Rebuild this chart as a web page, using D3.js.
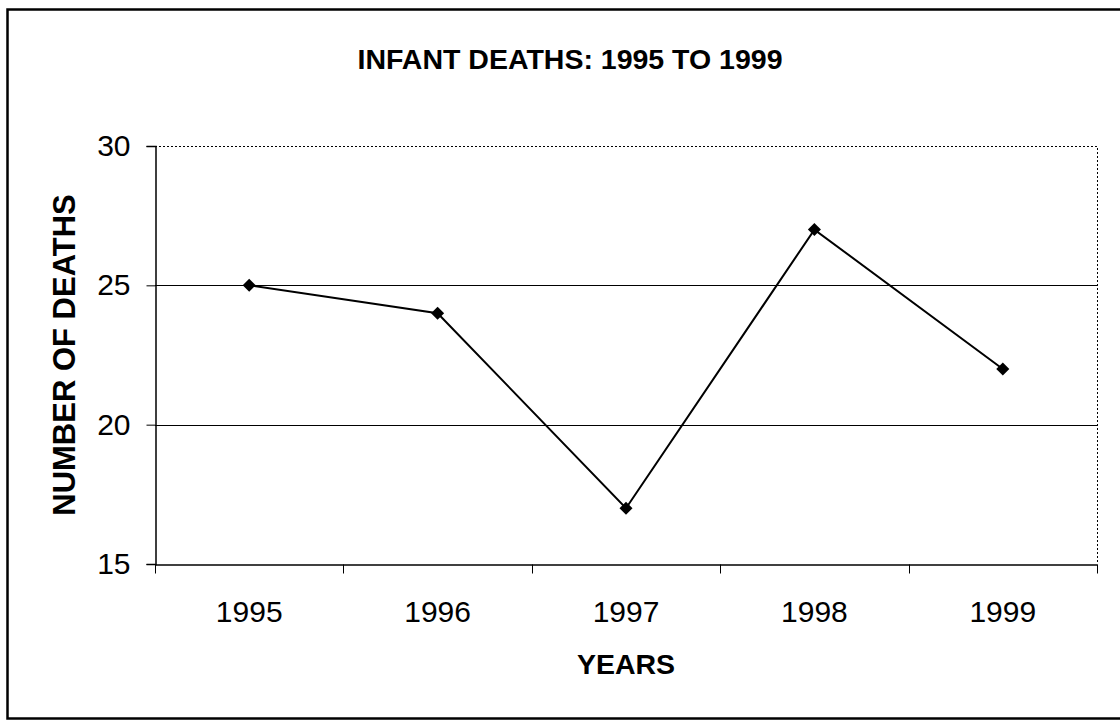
<!DOCTYPE html>
<html>
<head>
<meta charset="utf-8">
<script src="https://cdn.jsdelivr.net/npm/d3@7"></script>
<style>
  body { margin: 0; background: #fff; }
  svg { display: block; font-family: "Liberation Sans", Arial, sans-serif; }
</style>
</head>
<body>
<div id="chart"></div>
<script>
"use strict";

// Data
var years = ["1995", "1996", "1997", "1998", "1999"];
var deaths = [25, 24, 17, 27, 22];
var yTicks = [15, 20, 25, 30];

var width = 1120, height = 720;
var margin = {top: 146, right: 23, bottom: 156, left: 155};

var svg = d3.select("#chart").append("svg")
  .attr("width", width)
  .attr("height", height);

// outer frame of the chart
svg.append("rect")
  .attr("x", 7.5)
  .attr("y", 9.5)
  .attr("width", 1130)
  .attr("height", 709)
  .attr("fill", "none")
  .attr("stroke", "#000")
  .attr("stroke-width", 2.5);

var x = d3.scaleBand()
  .domain(years)
  .range([margin.left, width - margin.right]);

var y = d3.scaleLinear()
  .domain([15, 30])
  .range([height - margin.bottom, margin.top]);

var plotRight = width - margin.right;
var plotBottom = height - margin.bottom;

// gridlines
svg.append("g")
  .selectAll("line")
  .data(yTicks.filter(d => d > 15 && d < 30))
  .enter()
  .append("line")
    .attr("x1", margin.left)
    .attr("x2", plotRight)
    .attr("y1", d => Math.round(y(d)) + 0.5)
    .attr("y2", d => Math.round(y(d)) + 0.5)
    .attr("stroke", "#000")
    .attr("stroke-width", 1.2);

// dotted top and right edges of the plot area
svg.append("path")
  .attr("d", "M" + margin.left + "," + (margin.top + 0.5) + "H" + (plotRight + 0.5) + "V" + plotBottom)
  .attr("fill", "none")
  .attr("stroke", "#000")
  .attr("stroke-width", 1)
  .attr("stroke-dasharray", "2,2");

// Y axis
var yAxis = svg.append("g")
  .attr("transform", "translate(" + (margin.left + 0.5) + ",0)")
  .call(d3.axisLeft(y).tickValues(yTicks).tickSize(9).tickPadding(16));
yAxis.select(".domain").attr("stroke-width", 1.5);
yAxis.selectAll("text")
  .attr("font-size", 30)
  .attr("font-family", "Liberation Sans, Arial, sans-serif")
  .attr("fill", "#000");

// X axis with ticks between categories
var xAxis = svg.append("g")
  .attr("transform", "translate(0," + (plotBottom + 0.5) + ")")
  .call(d3.axisBottom(x).tickSize(0).tickPadding(36));
xAxis.select(".domain").attr("stroke-width", 1.5);
xAxis.selectAll("text")
  .attr("font-size", 30)
  .attr("font-family", "Liberation Sans, Arial, sans-serif")
  .attr("fill", "#000");

var bounds = years.map(d => x(d)).concat([plotRight]);
xAxis.selectAll(".sep")
  .data(bounds)
  .enter()
  .append("line")
    .attr("class", "sep")
    .attr("x1", d => Math.round(d) + 0.5)
    .attr("x2", d => Math.round(d) + 0.5)
    .attr("y1", 0)
    .attr("y2", 9)
    .attr("stroke", "#000");

// line and markers
var pts = years.map((d, i) => ({year: d, value: deaths[i]}));

svg.append("path")
  .datum(pts)
  .attr("fill", "none")
  .attr("stroke", "#000")
  .attr("stroke-width", 2)
  .attr("d", d3.line()
    .x(d => x(d.year) + x.bandwidth() / 2)
    .y(d => y(d.value)));

svg.append("g")
  .selectAll("path")
  .data(pts)
  .enter()
  .append("path")
    .attr("d", d3.symbol().type(d3.symbolSquare).size(85))
    .attr("transform", d => "translate(" + (x(d.year) + x.bandwidth() / 2) + "," + y(d.value) + ") rotate(45)")
    .attr("fill", "#000");

// Title
svg.append("text")
  .attr("x", 570)
  .attr("y", 69)
  .attr("text-anchor", "middle")
  .attr("font-size", 28.5)
  .attr("font-weight", "bold")
  .text("INFANT DEATHS: 1995 TO 1999");

// X axis label
svg.append("text")
  .attr("x", (margin.left + plotRight) / 2)
  .attr("y", 674)
  .attr("text-anchor", "middle")
  .attr("font-size", 28.5)
  .attr("font-weight", "bold")
  .text("YEARS");

// Y axis label
svg.append("text")
  .attr("transform", "translate(75," + ((margin.top + plotBottom) / 2) + ") rotate(-90)")
  .attr("text-anchor", "middle")
  .attr("font-size", 31)
  .attr("font-weight", "bold")
  .text("NUMBER OF DEATHS");
</script>
</body>
</html>
